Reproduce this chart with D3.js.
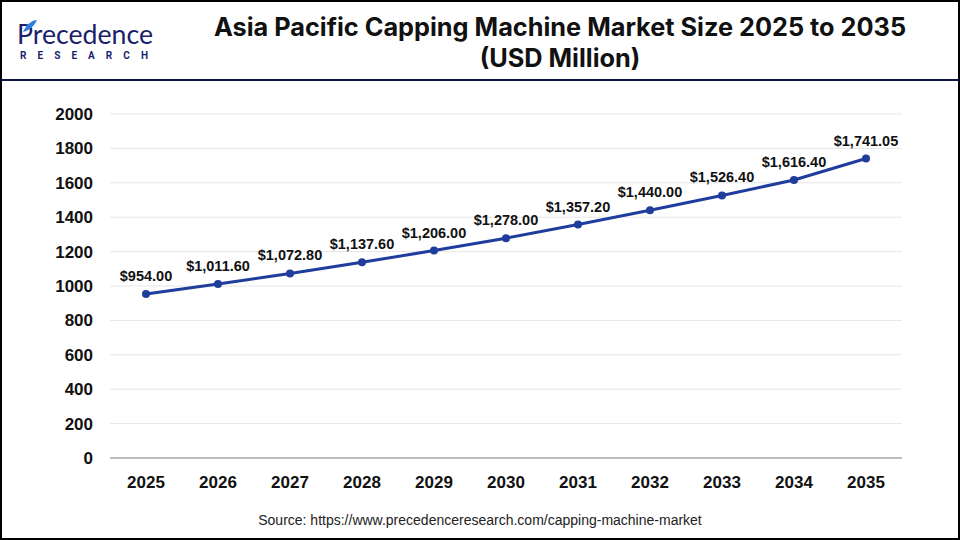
<!DOCTYPE html>
<html><head><meta charset="utf-8">
<script src="https://cdn.jsdelivr.net/npm/d3@7"></script>
<style>body{margin:0;background:#fff}svg{display:block}</style>
</head><body>
<svg id="c" width="960" height="540"></svg>
<script>
const years = ["2025","2026","2027","2028","2029","2030","2031","2032","2033","2034","2035"];
const values = [954.00,1011.60,1072.80,1137.60,1206.00,1278.00,1357.20,1440.00,1526.40,1616.40,1741.05];
const yTicks = [0,200,400,600,800,1000,1200,1400,1600,1800,2000];
const titleLines = ["Asia Pacific Capping Machine Market Size 2025 to 2035","(USD Million)"];
const sourceText = "Source: https://www.precedenceresearch.com/capping-machine-market";

const svg = d3.select("#c");
const W=960,H=540;
svg.append("rect").attr("x",1).attr("y",1).attr("width",W-2).attr("height",H-2).attr("fill","#fff").attr("stroke","#000").attr("stroke-width",2);
svg.append("line").attr("x1",1).attr("x2",W-1).attr("y1",80).attr("y2",80).attr("stroke","#0d1440").attr("stroke-width",2);

// logo
const logo = svg.append("g");
logo.append("text").attr("x",17).attr("y",44).attr("font-family","Lato, 'Open Sans', sans-serif").attr("font-size",26).attr("fill","#1b1f6b").attr("textLength",136).attr("lengthAdjust","spacingAndGlyphs").text("Precedence");
logo.append("path").attr("d","M23 32 C27 23, 33 20, 37 20 C34 26, 30 30, 23 32 Z").attr("fill","#2f7de1");
logo.append("text").attr("x",20).attr("y",59).attr("font-family","Roboto, sans-serif").attr("font-weight","bold").attr("font-size",10).attr("fill","#1b1f6b").attr("textLength",128).attr("lengthAdjust","spacing").text("RESEARCH");

svg.selectAll(".title").data(titleLines).join("text")
  .attr("x",560).attr("y",(d,i)=>36+i*31).attr("text-anchor","middle")
  .attr("font-family","Inter, 'Liberation Sans', Arial, sans-serif").attr("font-weight","bold").attr("font-size",25.3).attr("fill","#111").text(d=>d);

const x = d3.scaleBand().domain(years).range([110,902]);
const y = d3.scaleLinear().domain([0,2000]).range([458,114]);

const grid = svg.append("g");
grid.selectAll("line").data(yTicks.filter(d=>d>0)).join("line")
  .attr("x1",110).attr("x2",902).attr("y1",d=>y(d)).attr("y2",d=>y(d)).attr("stroke","#e6e6e6").attr("stroke-width",1);
svg.append("line").attr("x1",110).attr("x2",902).attr("y1",y(0)).attr("y2",y(0)).attr("stroke","#bdbdbd").attr("stroke-width",2);

const yAxis = svg.append("g").attr("transform","translate(93,0)")
  .call(d3.axisLeft(y).tickValues(yTicks).tickFormat(d3.format("d")).tickSize(0).tickPadding(0));
yAxis.select(".domain").remove();
yAxis.selectAll("text").attr("font-family","Liberation Sans, Arial, sans-serif").attr("font-weight","bold").attr("font-size",17).attr("fill","#111");

const xAxis = svg.append("g").attr("transform","translate(0,476)")
  .call(d3.axisBottom(x).tickSize(0).tickPadding(0));
xAxis.select(".domain").remove();
xAxis.selectAll("text").attr("font-family","Liberation Sans, Arial, sans-serif").attr("font-weight","bold").attr("font-size",17).attr("fill","#111").attr("dy","0.71em");

const cx = d => x(d)+x.bandwidth()/2;
const data = years.map((yr,i)=>({yr,v:values[i]}));
svg.append("path").datum(data).attr("fill","none").attr("stroke","#1f3d9c").attr("stroke-width",3)
  .attr("d",d3.line().x(d=>cx(d.yr)).y(d=>y(d.v)));
svg.selectAll(".dot").data(data).join("circle").attr("cx",d=>cx(d.yr)).attr("cy",d=>y(d.v)).attr("r",4).attr("fill","#1f3d9c");
const fmt = d3.format("$,.2f");
svg.selectAll(".lbl").data(data).join("text").attr("x",d=>cx(d.yr)).attr("y",d=>y(d.v)-13).attr("text-anchor","middle")
  .attr("font-family","Liberation Sans, Arial, sans-serif").attr("font-weight","bold").attr("font-size",14.5).attr("fill","#111").text(d=>fmt(d.v));

svg.append("text").attr("x",480).attr("y",525).attr("text-anchor","middle").attr("font-family","'Liberation Sans', Arial, sans-serif").attr("font-size",14).attr("fill","#222").text(sourceText);
</script>
</body></html>
